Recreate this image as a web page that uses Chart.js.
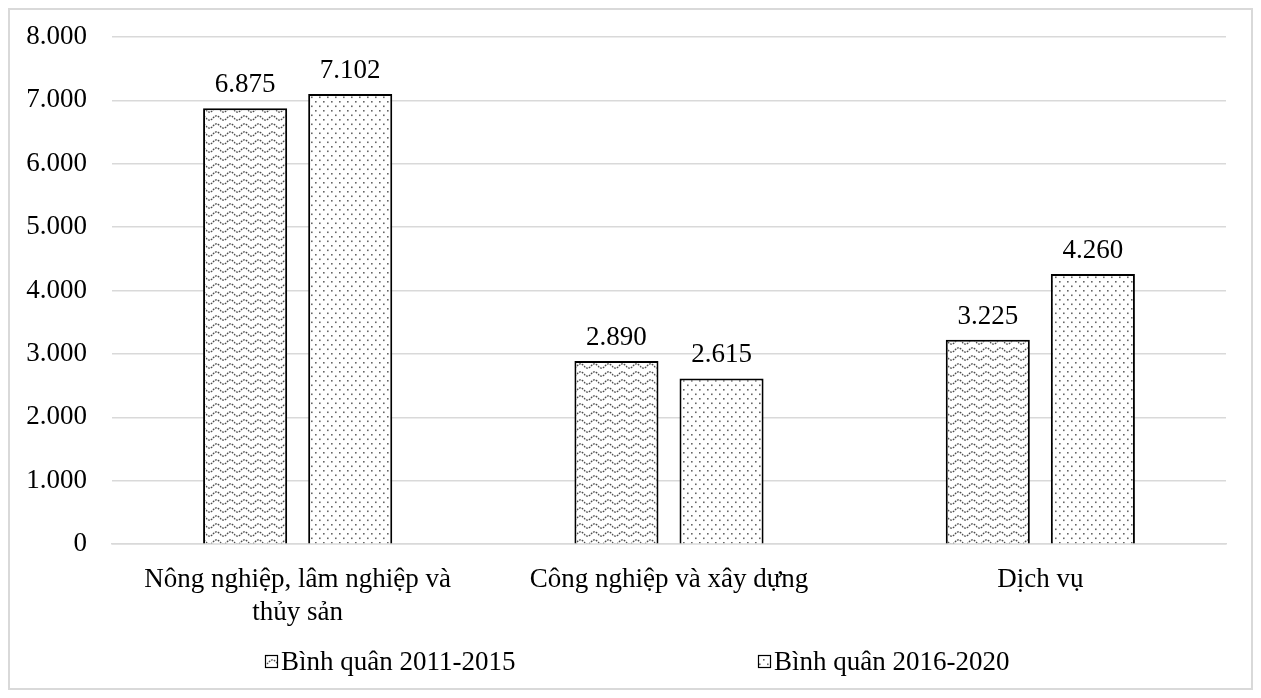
<!DOCTYPE html>
<html>
<head>
<meta charset="utf-8">
<script src="https://cdn.jsdelivr.net/npm/chart.js@4.4.1/dist/chart.umd.min.js"></script>
<style>
  body { margin: 0; background: #fff; }
  #wrap { position: absolute; left: 8px; top: 8px; width: 1241px; height: 678px; border: 2px solid #d9d9d9; }
  canvas { display: block; }
</style>
</head>
<body>
<div id="wrap"><canvas id="chart" width="1241" height="678"></canvas></div>
<script>
const categories = [['Nông nghiệp, lâm nghiệp và', 'thủy sản'], 'Công nghiệp và xây dựng', 'Dịch vụ'];
const seriesNames = ['Bình quân 2011-2015', 'Bình quân 2016-2020'];
const values2011 = [6875, 2890, 3225];
const values2016 = [7102, 2615, 4260];
const yTicks = [0, 1000, 2000, 3000, 4000, 5000, 6000, 7000, 8000];

const FONT = '"Liberation Serif", "Times New Roman", serif';
const FSIZE = 27;

function fmt(n) {
    return String(n).replace(/\B(?=(\d{3})+(?!\d))/g, '.');
}

// gray dotted waves, like the Excel "wave" fill
function wavePattern(ctx) {
    const c = document.createElement('canvas');
    c.width = 14; c.height = 8;
    const g = c.getContext('2d');
    g.fillStyle = '#fff';
    g.fillRect(0, 0, 14, 8);
    g.strokeStyle = '#4d4d4d';
    g.lineWidth = 1.3;
    g.setLineDash([1.8, 1]);
    g.beginPath();
    for (let x = 0; x <= 14; x += 0.5) {
        const y = 4 + 2.2 * Math.sin(x / 14 * Math.PI * 2);
        if (x === 0) g.moveTo(x, y); else g.lineTo(x, y);
    }
    g.stroke();
    return ctx.createPattern(c, 'repeat');
}

function dotPattern(ctx) {
    const c = document.createElement('canvas');
    c.width = 8; c.height = 9;
    const g = c.getContext('2d');
    g.fillStyle = '#fff';
    g.fillRect(0, 0, 8, 9);
    g.fillStyle = '#666';
    g.fillRect(1, 1, 1.6, 1.6);
    g.fillRect(5, 5.5, 1.6, 1.6);
    return ctx.createPattern(c, 'repeat');
}

const canvas = document.getElementById('chart');
const ctx = canvas.getContext('2d');
const patterns = [wavePattern(ctx), dotPattern(ctx)];

const valueLabels = {
    id: 'valueLabels',
    afterDatasetsDraw(chart) {
        const c = chart.ctx;
        c.save();
        c.font = FSIZE + 'px ' + FONT;
        c.fillStyle = '#000';
        c.textAlign = 'center';
        c.textBaseline = 'alphabetic';
        chart.data.datasets.forEach((ds, i) => {
            chart.getDatasetMeta(i).data.forEach((el, j) => {
                c.fillText(fmt(ds.data[j]), el.x, el.y - 16);
            });
        });
        c.restore();
    }
};

const customLegend = {
    id: 'customLegend',
    afterDraw(chart) {
        const c = chart.ctx;
        const xs = [255, 748];
        const y = 652;
        c.save();
        c.font = FSIZE + 'px ' + FONT;
        c.textBaseline = 'middle';
        c.textAlign = 'left';
        seriesNames.forEach((name, i) => {
            const bx = xs[i], by = y - 7;
            c.fillStyle = '#fff';
            c.fillRect(bx, by, 13, 13);
            c.fillStyle = patterns[i];
            c.fillRect(bx, by, 13, 13);
            c.strokeStyle = '#000';
            c.lineWidth = 1.2;
            c.strokeRect(bx + 0.5, by + 0.5, 12, 12);
            c.fillStyle = '#000';
            c.fillText(name, bx + 16, y + 1);
        });
        c.restore();
    }
};

new Chart(ctx, {
    type: 'bar',
    data: {
        labels: categories,
        datasets: [{
            label: seriesNames[0],
            data: values2011,
            backgroundColor: patterns[0],
            borderColor: '#000',
            borderWidth: 2
        }, {
            label: seriesNames[1],
            data: values2016,
            backgroundColor: patterns[1],
            borderColor: '#000',
            borderWidth: 2
        }]
    },
    options: {
        responsive: false,
        animation: false,
        categoryPercentage: 0.566,
        barPercentage: 0.8,
        layout: { padding: { top: 27, right: 25, bottom: 47, left: 16 } },
        plugins: {
            legend: { display: false },
            tooltip: { enabled: false }
        },
        scales: {
            x: {
                grid: { display: false },
                border: { color: '#d9d9d9', width: 1.5 },
                ticks: { font: { family: FONT, size: FSIZE }, color: '#000', padding: 12, maxRotation: 0 },
                afterFit(axis) { axis.paddingLeft = 0; axis.paddingRight = 0; }
            },
            y: {
                min: 0,
                max: 8000,
                afterBuildTicks(axis) { axis.ticks = yTicks.map(v => ({ value: v })); },
                afterFit(axis) { axis.width = 86; axis.paddingTop = 0; axis.paddingBottom = 0; },
                grid: { color: '#d9d9d9', lineWidth: 1.5, drawTicks: false },
                border: { display: false },
                ticks: {
                    font: { family: FONT, size: FSIZE },
                    color: '#000',
                    padding: 25,
                    callback: v => fmt(v)
                }
            }
        }
    },
    plugins: [valueLabels, customLegend]
});
</script>
</body>
</html>
